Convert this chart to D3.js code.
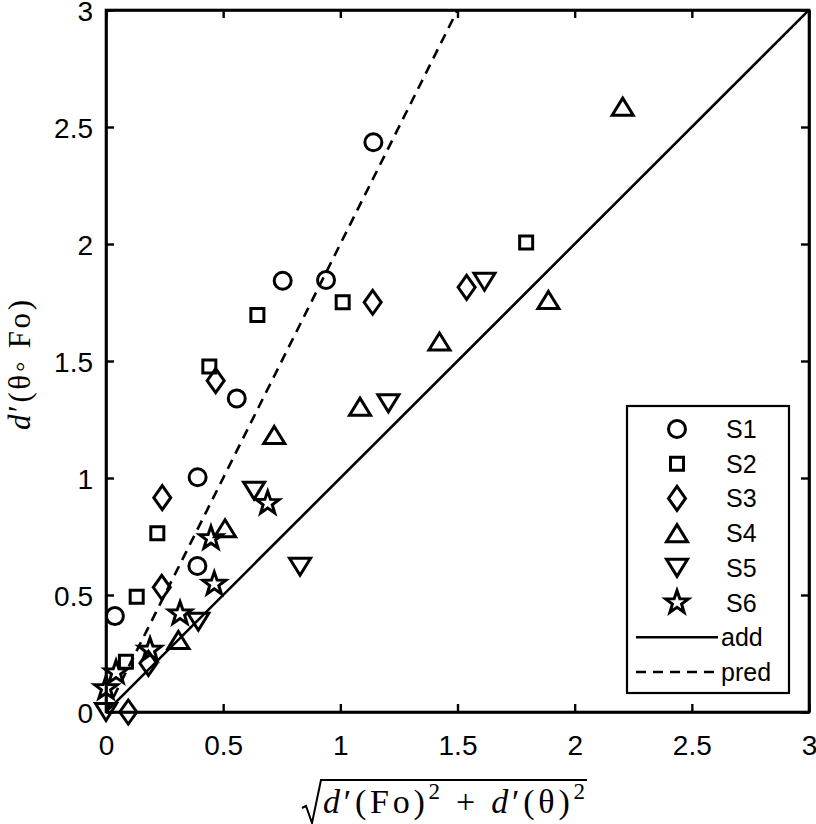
<!DOCTYPE html>
<meta charset="utf-8">
<script src="https://cdn.jsdelivr.net/npm/d3@7"></script>
<style>
body { margin: 0; background: #fff; }
text { fill: #000; }
.tick text { font: 28px "Liberation Sans", Arial, sans-serif; }
.lab { font-family: "Liberation Serif", "Times New Roman", serif; }
.leg text { font: 25px "Liberation Sans", Arial, sans-serif; }
</style>
<body>
<script>

// values
var s1x = [1.141, 0.754, 0.939, 0.558, 0.391, 0.390, 0.038];
var s1y = [2.435, 1.843, 1.846, 1.340, 1.003, 0.624, 0.410];
var s2x = [1.793, 1.010, 0.646, 0.441, 0.219, 0.131, 0.085];
var s2y = [2.006, 1.751, 1.697, 1.476, 0.764, 0.493, 0.215];
var s3x = [1.138, 1.539, 0.468, 0.240, 0.238, 0.181, 0.095];
var s3y = [1.751, 1.815, 1.416, 0.916, 0.533, 0.208, 0.000];
var s4x = [2.205, 1.888, 1.423, 1.084, 0.718, 0.508, 0.309];
var s4y = [2.587, 1.761, 1.583, 1.305, 1.184, 0.785, 0.308];
var s5x = [1.615, 1.205, 0.632, 0.828, 0.394, 0.000];
var s5y = [1.839, 1.319, 0.946, 0.621, 0.386, 0.000];
var s6x = [0.690, 0.448, 0.462, 0.316, 0.188, 0.043, 0.000];
var s6y = [0.892, 0.742, 0.547, 0.420, 0.265, 0.168, 0.101];

var seriesNames = ["S1", "S2", "S3", "S4", "S5", "S6"];
var seriesShapes = ["circle", "square", "diamond", "up", "down", "star"];
var seriesX = [s1x, s2x, s3x, s4x, s5x, s6x];
var seriesY = [s1y, s2y, s3y, s4y, s5y, s6y];

var addLine = [[0, 0], [3, 3]];
var predLine = [[0, 0], [1.5, 3]];
var lineNames = ["add", "pred"];

var ticks = [0, 0.5, 1, 1.5, 2, 2.5, 3];

var width = 816, height = 824;
var pL = 106, pR = 809, pT = 10, pB = 712;

var x = d3.scaleLinear().domain([0, 3]).range([pL, pR]);
var y = d3.scaleLinear().domain([0, 3]).range([pB, pT]);

var svg = d3.select("body").append("svg")
    .attr("width", width)
    .attr("height", height);

svg.append("defs").append("clipPath").attr("id", "clip")
  .append("rect").attr("x", pL).attr("y", pT)
  .attr("width", pR - pL).attr("height", pB - pT);

// marker shapes, centred on 0,0
function shapePath(kind) {
  var p = d3.path();
  if (kind == "circle") {
    p.moveTo(8.5, 0); p.arc(0, 0, 8.5, 0, 2 * Math.PI);
  } else if (kind == "square") {
    p.rect(-6.5, -6.5, 13, 13);
  } else if (kind == "diamond") {
    p.moveTo(0, -12); p.lineTo(8.5, 0); p.lineTo(0, 12); p.lineTo(-8.5, 0); p.closePath();
  } else if (kind == "up") {
    p.moveTo(0, -8.5); p.lineTo(10.5, 8.5); p.lineTo(-10.5, 8.5); p.closePath();
  } else if (kind == "down") {
    p.moveTo(0, 8.5); p.lineTo(10.5, -8.5); p.lineTo(-10.5, -8.5); p.closePath();
  } else if (kind == "star") {
    for (var i = 0; i < 10; i++) {
      var r = i % 2 ? 4.8 : 12;
      var a = -Math.PI / 2 + i * Math.PI / 5;
      if (i == 0) p.moveTo(r * Math.cos(a), r * Math.sin(a));
      else p.lineTo(r * Math.cos(a), r * Math.sin(a));
    }
    p.closePath();
  }
  return p.toString();
}

var line = d3.line().x(function(d) { return x(d[0]); }).y(function(d) { return y(d[1]); });

var plot = svg.append("g").attr("clip-path", "url(#clip)");

plot.append("path").datum(addLine)
    .attr("d", line)
    .attr("fill", "none").attr("stroke", "#000").attr("stroke-width", 2.6);

plot.append("path").datum(predLine)
    .attr("d", line)
    .attr("fill", "none").attr("stroke", "#000").attr("stroke-width", 2.6)
    .attr("stroke-dasharray", "10,7");

// the points
seriesNames.forEach(function(name, k) {
  var pts = seriesX[k].map(function(v, i) { return [v, seriesY[k][i]]; });
  svg.append("g").selectAll("path")
      .data(pts)
      .enter().append("path")
      .attr("transform", function(d) { return "translate(" + x(d[0]) + "," + y(d[1]) + ")"; })
      .attr("d", shapePath(seriesShapes[k]))
      .attr("fill", "none")
      .attr("stroke", "#000")
      .attr("stroke-width", 3)
      .attr("stroke-linejoin", "miter");
});

// axes, ticks inward, mirrored on top and right
var axisB = svg.append("g").attr("transform", "translate(0," + pB + ")")
    .call(d3.axisBottom(x).tickValues(ticks).tickSizeInner(-8).tickSizeOuter(0).tickFormat(d3.format("")));
var axisL = svg.append("g").attr("transform", "translate(" + pL + ",0)")
    .call(d3.axisLeft(y).tickValues(ticks).tickSizeInner(-8).tickSizeOuter(0).tickFormat(d3.format("")));
var axisT = svg.append("g").attr("transform", "translate(0," + pT + ")")
    .call(d3.axisTop(x).tickValues(ticks).tickSizeInner(-8).tickSizeOuter(0).tickFormat(""));
var axisR = svg.append("g").attr("transform", "translate(" + pR + ",0)")
    .call(d3.axisRight(y).tickValues(ticks).tickSizeInner(-8).tickSizeOuter(0).tickFormat(""));

[axisB, axisL, axisT, axisR].forEach(function(a) {
  a.select(".domain").attr("stroke-width", 2.6);
  a.selectAll(".tick line").attr("stroke-width", 2.4);
});
axisB.selectAll(".tick text").attr("y", 23).attr("dy", "0.71em");
axisL.selectAll(".tick text").attr("x", -13).attr("dy", "0.36em");

svg.append("rect")
    .attr("x", pL).attr("y", pT)
    .attr("width", pR - pL).attr("height", pB - pT)
    .attr("fill", "none").attr("stroke", "#000").attr("stroke-width", 2.6);

// x label: sqrt( d'(Fo)^2 + d'(theta)^2 )
var xl = svg.append("text").attr("class", "lab")
    .attr("x", 323).attr("y", 813)
    .attr("textLength", 262).attr("lengthAdjust", "spacing")
    .style("font-size", "34px");
xl.append("tspan").style("font-style", "italic").text("d");
xl.append("tspan").text("′(Fo)");
xl.append("tspan").attr("dy", -14).style("font-size", "23px").text("2");
xl.append("tspan").attr("dy", 14).text(" +  ");
xl.append("tspan").style("font-style", "italic").text("d");
xl.append("tspan").text("′(θ)");
xl.append("tspan").attr("dy", -14).style("font-size", "23px").text("2");

svg.append("path")
    .attr("d", "M302,808 L306,806 L312,823 L321,780 L587,780")
    .attr("fill", "none").attr("stroke", "#000").attr("stroke-width", 2);

// y label
var yl = svg.append("text").attr("class", "lab")
    .attr("transform", "translate(30,365) rotate(-90)")
    .attr("text-anchor", "middle")
    .attr("textLength", 130).attr("lengthAdjust", "spacing")
    .style("font-size", "31px");
yl.append("tspan").style("font-style", "italic").text("d");
yl.append("tspan").text("′(θ◦ Fo)");

// legend
var leg = svg.append("g").attr("class", "leg");
leg.append("rect")
    .attr("x", 627).attr("y", 406).attr("width", 162).attr("height", 287)
    .attr("fill", "#fff").attr("stroke", "#000").attr("stroke-width", 2.2);

var legY = d3.scaleLinear().domain([0, 7]).range([429, 672]);

seriesNames.forEach(function(name, k) {
  leg.append("path")
      .attr("transform", "translate(677," + legY(k) + ")")
      .attr("d", shapePath(seriesShapes[k]))
      .attr("fill", "none").attr("stroke", "#000").attr("stroke-width", 3);
  leg.append("text").attr("x", 726).attr("y", legY(k)).attr("dy", "0.36em").text(name);
});
lineNames.forEach(function(name, j) {
  var yy = legY(6 + j);
  leg.append("line")
      .attr("x1", 636).attr("x2", 718).attr("y1", yy).attr("y2", yy)
      .attr("stroke", "#000").attr("stroke-width", 2.6)
      .attr("stroke-dasharray", j == 1 ? "10,7" : null);
  leg.append("text").attr("x", 721).attr("y", yy).attr("dy", "0.36em").text(name);
});

</script>
</body>
</html>
